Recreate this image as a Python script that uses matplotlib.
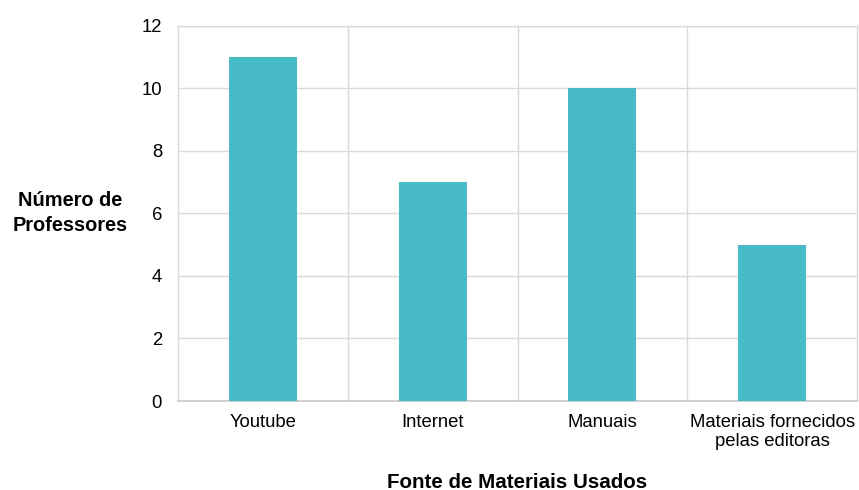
import matplotlib
matplotlib.use("Agg")
import matplotlib.pyplot as plt
import numpy as np

categories = ["Youtube", "Internet", "Manuais", "Materiais fornecidos\npelas editoras"]
values = [11, 7, 10, 5]
yticks = [0, 2, 4, 6, 8, 10, 12]

plt.rcParams['font.family'] = ['Liberation Sans', 'DejaVu Sans']

fig = plt.figure(figsize=(8.59, 4.90), dpi=100)
ax = fig.add_axes([178/859, 1-401/490, (857-178)/859, (401-25.5)/490])

x = np.arange(len(categories))
ax.bar(x, values, width=0.4, color="#48BCC6", zorder=3)

ax.set_xlim(-0.5, len(categories)-0.5)
ax.set_ylim(0, 12)
ax.set_yticks(yticks)
ax.set_yticklabels([str(v) for v in yticks], fontsize=13.3)
ax.set_xticks(x)
ax.set_xticklabels(categories, fontsize=13.3, linespacing=1.15)
ax.set_xticks(np.arange(len(categories)-1)+0.5, minor=True)
ax.tick_params(axis='both', which='both', length=0)
ax.tick_params(axis='y', pad=11.5)
ax.tick_params(axis='x', pad=9.5)

ax.grid(axis='y', which='major', color="#d9d9d9", linewidth=1, zorder=0)
ax.grid(axis='x', which='minor', color="#d9d9d9", linewidth=1, zorder=0)
ax.grid(axis='x', which='major', visible=False)

for s in ['left', 'top', 'right']:
    ax.spines[s].set_color("#d9d9d9")
    ax.spines[s].set_linewidth(1)
ax.spines['bottom'].set_color("#c6c6c6")
ax.spines['bottom'].set_linewidth(1.2)

fig.text(70/859, 1-213/490, "Número de\nProfessores", ha='center', va='center',
         fontsize=14.4, fontweight='bold', linespacing=1.35)
fig.text(517.5/859, 1-482/490, "Fonte de Materiais Usados", ha='center', va='center',
         fontsize=14.8, fontweight='bold')

fig.savefig("out.png", dpi=100)
